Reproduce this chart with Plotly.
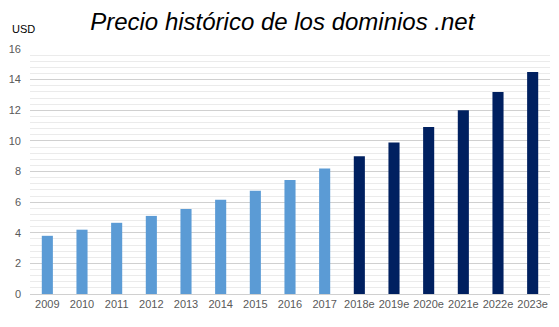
import plotly.graph_objects as go

years = ["2009", "2010", "2011", "2012", "2013", "2014", "2015", "2016", "2017",
         "2018e", "2019e", "2020e", "2021e", "2022e", "2023e"]
prices = [3.8, 4.2, 4.65, 5.1, 5.55, 6.15, 6.75, 7.45, 8.2,
          9.0, 9.9, 10.9, 12.0, 13.2, 14.5]
colors = ["#5B9BD5" if not y.endswith("e") else "#002060" for y in years]

fig = go.Figure(go.Bar(x=years, y=prices, marker=dict(color=colors, line=dict(width=0)),
                       width=0.32))

fig.update_layout(
    width=559, height=327,
    margin=dict(l=30, r=9, t=49, b=33),
    paper_bgcolor="white", plot_bgcolor="white",
    showlegend=False,
    title=dict(text="<i>Precio histórico de los dominios .net</i>", x=0.505, xanchor="center",
               y=0.935, yanchor="middle",
               font=dict(family="Liberation Sans", size=24, color="#000000")),
    font=dict(family="Liberation Sans", size=11, color="#595959"),
)
fig.update_yaxes(range=[0, 16], dtick=2, tick0=0, gridcolor="#D0D0D0", gridwidth=1,
                 zeroline=True, zerolinecolor="#D0D0D0", zerolinewidth=1,
                 ticks="", ticklabelstandoff=8,
                 minor=dict(dtick=0.4, tick0=0, showgrid=True, gridcolor="#EBEBEB", gridwidth=1),
                 tickfont=dict(size=11, color="#595959"))
fig.update_xaxes(showgrid=False, ticks="", tickfont=dict(size=11, color="#595959"),
                 showline=True, linecolor="#D0D0D0")

fig.add_annotation(text="USD", xref="paper", yref="paper", x=-0.038, y=1.08,
                   xanchor="left", yanchor="middle", showarrow=False,
                   font=dict(family="Liberation Sans", size=11, color="#000000"))

fig.write_html("out.html")
